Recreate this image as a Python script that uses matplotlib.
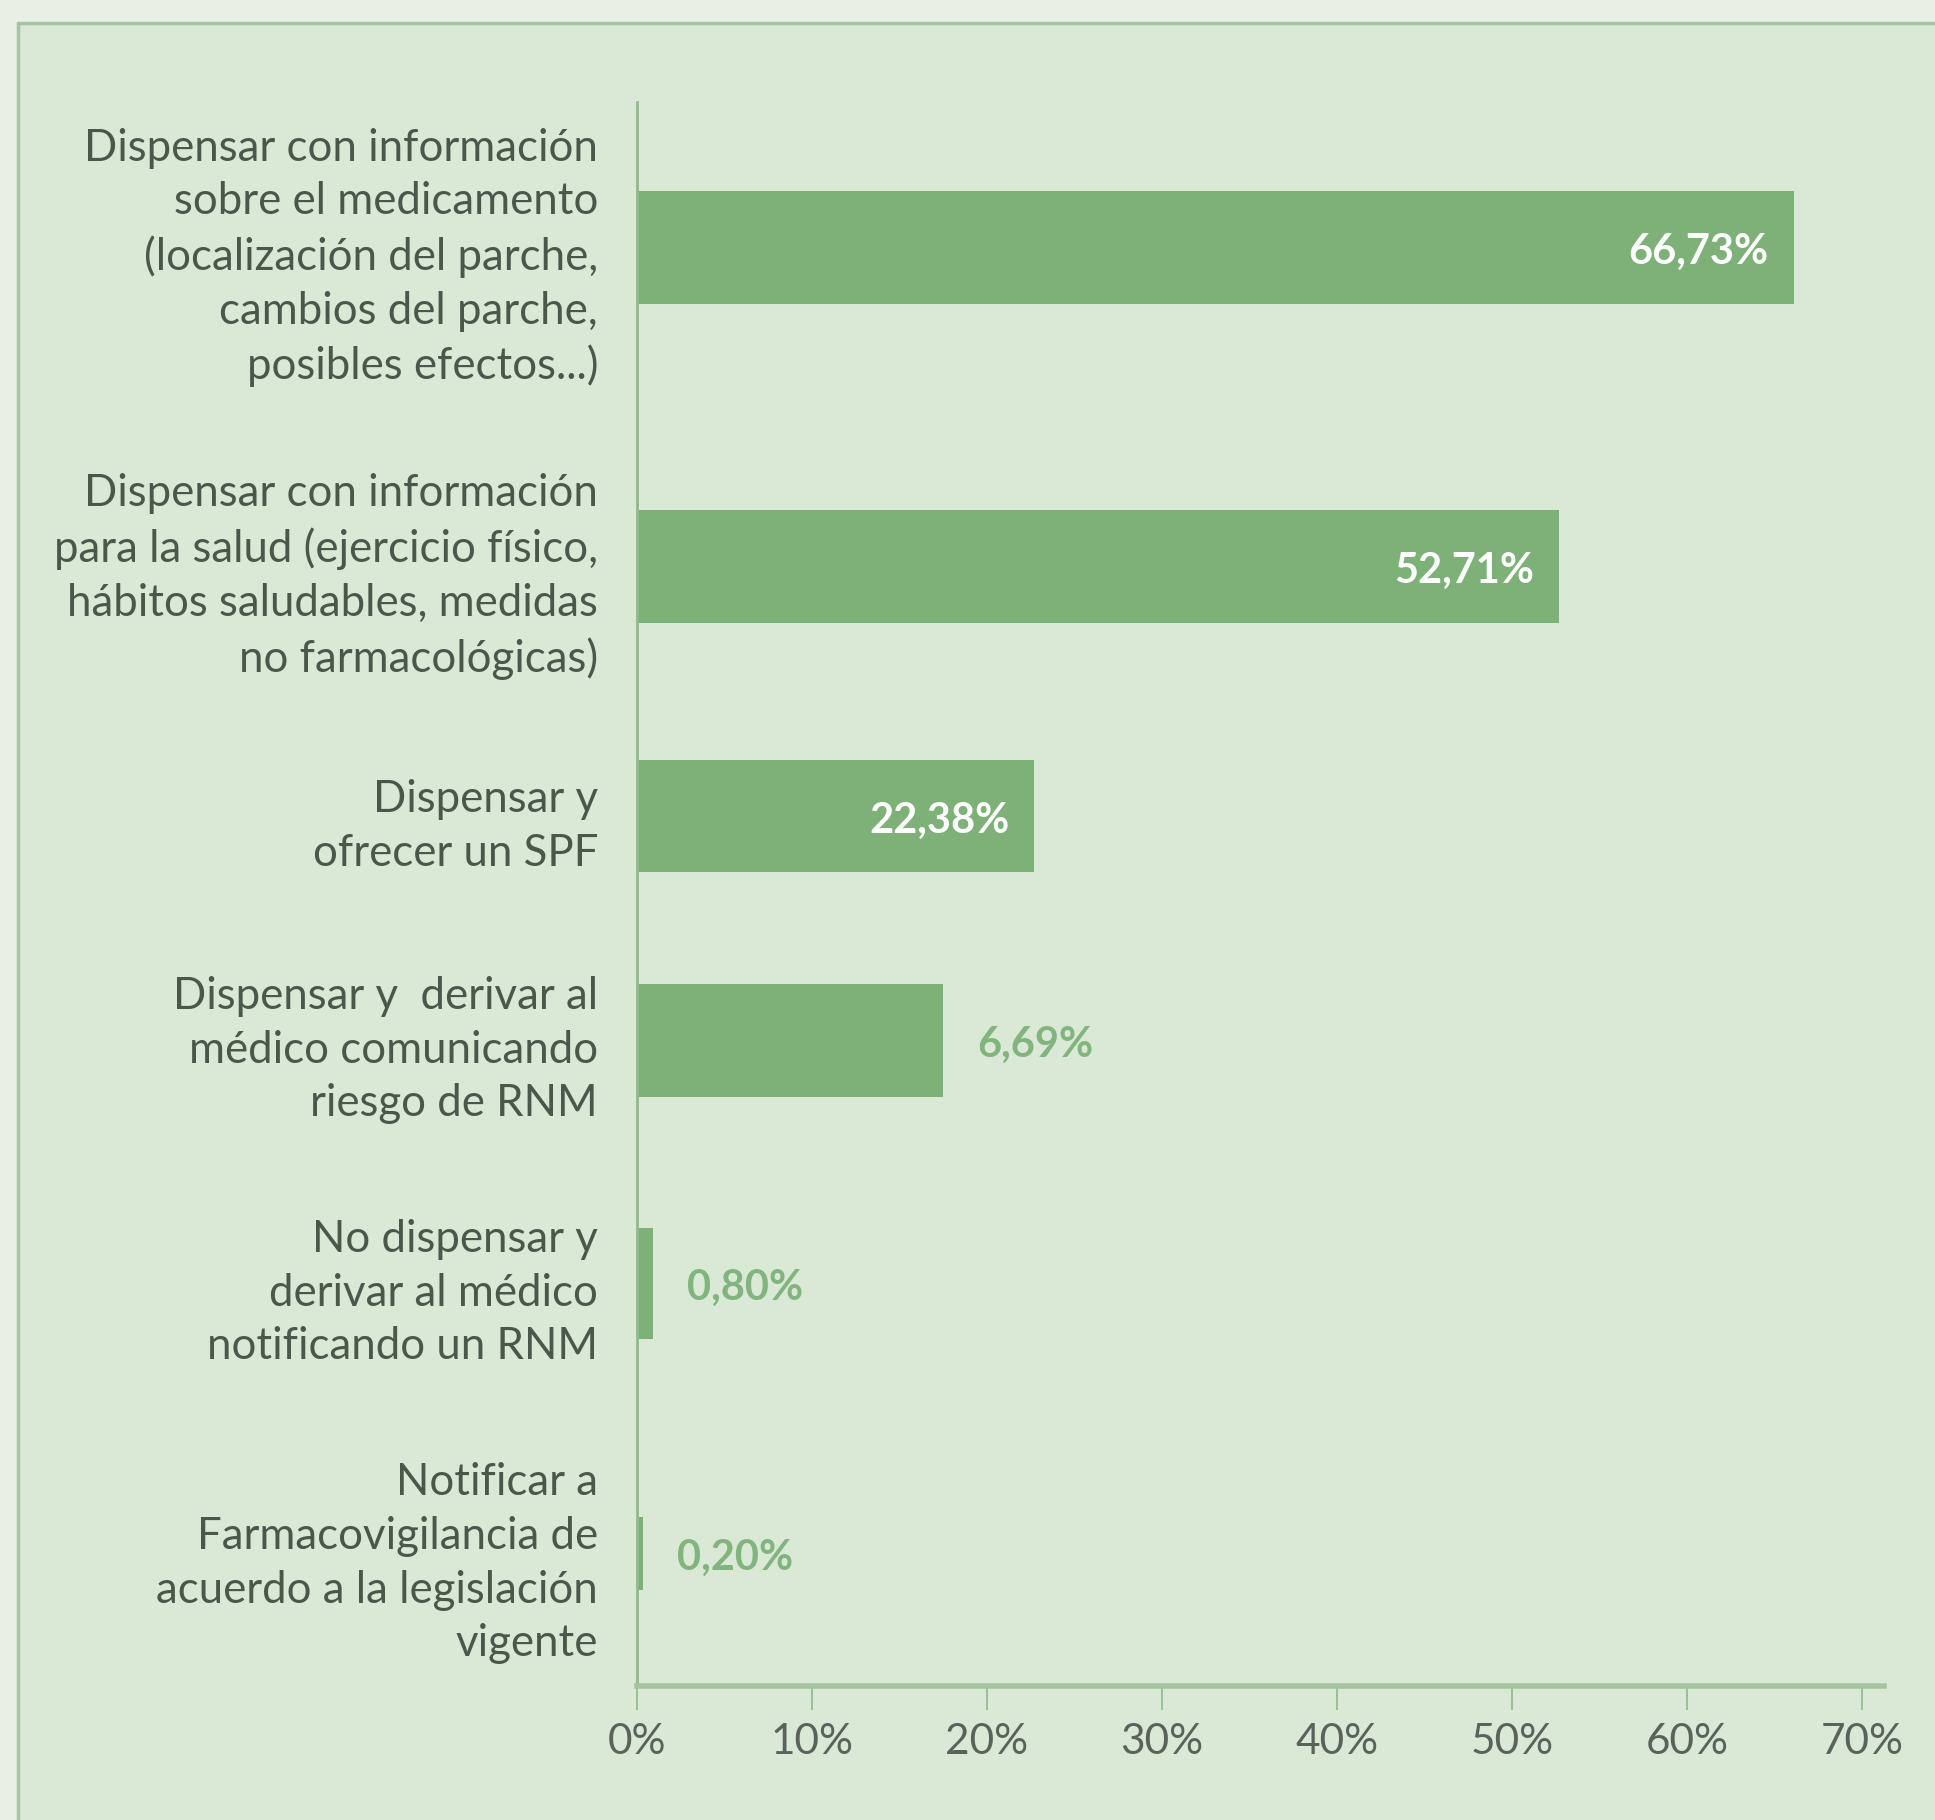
import matplotlib
matplotlib.use("Agg")
import matplotlib.pyplot as plt
from matplotlib.patches import Rectangle

categories = [
    "Dispensar con información\nsobre el medicamento\n(localización del parche,\ncambios del parche,\nposibles efectos...)",
    "Dispensar con información\npara la salud (ejercicio físico,\nhábitos saludables, medidas\nno farmacológicas)",
    "Dispensar y\nofrecer un SPF",
    "Dispensar y  derivar al\nmédico comunicando\nriesgo de RNM",
    "No dispensar y\nderivar al médico\nnotificando un RNM",
    "Notificar a\nFarmacovigilancia de\nacuerdo a la legislación\nvigente",
]
# bar lengths as drawn in the picture (percent)
bar_values = [66.1, 52.7, 22.7, 17.5, 0.9, 0.35]
# value labels printed on the chart
value_labels = ["66,73%", "52,71%", "22,38%", "6,69%", "0,80%", "0,20%"]
xticks = [0, 10, 20, 30, 40, 50, 60, 70]
xtick_labels = ["0%", "10%", "20%", "30%", "40%", "50%", "60%", "70%"]

# layout (slot positions / heights, axis units)
slot_pos = [247, 566, 816, 1040, 1283, 1553]
slot_h = [113, 113, 112, 113, 111, 73]
label_inside = [True, True, True, False, False, False]

W, H = 1935, 1820
fig = plt.figure(figsize=(W / 100, H / 100), dpi=100)
fig.patch.set_facecolor("#e8f0e6")
panel = Rectangle((18 / W, -0.05), 1.2, 1 - 23 / H + 0.05, transform=fig.transFigure,
                  facecolor="#dae8d6", edgecolor="#a8c4a2", linewidth=2.5, zorder=-10)
fig.patches.append(panel)

ax = fig.add_axes([637 / W, 1 - 1686 / H, (1884 - 637) / W, (1686 - 102) / H])
ax.set_zorder(5)
ax.set_facecolor("none")
ax.patch.set_alpha(0)
ax.set_xlim(0, (1884 - 637) / 175 * 10)
ax.set_ylim(1686, 102)

bar_color = "#7db178"
ax.barh(slot_pos, bar_values, height=slot_h, color=bar_color, zorder=2)

for y, v, lab, inside in zip(slot_pos, bar_values, value_labels, label_inside):
    if inside:
        ax.annotate(lab, (v, y), xytext=(-25, -5), textcoords="offset pixels", ha="right", va="center",
                    color="white", fontsize=30, fontweight="bold", family="Lato")
    else:
        ax.annotate(lab, (v, y), xytext=(34, -5), textcoords="offset pixels", ha="left", va="center",
                    color="#82b57e", fontsize=30, fontweight="bold", family="Lato")

ax.set_yticks(slot_pos)
ax.set_yticklabels(categories, fontsize=31.5, family="Lato", color="#4c574c", linespacing=1.38,
                   ha="right", multialignment="right")
ax.tick_params(axis="y", length=0, pad=28)

ax.set_xticks(xticks)
ax.set_xticklabels(xtick_labels, fontsize=30.5, family="Lato", color="#5a635b")
ax.tick_params(axis="x", length=17, width=1.3, color="#92bd8e", pad=10, direction="out")

for s in ["top", "right"]:
    ax.spines[s].set_visible(False)
ax.spines["left"].set_color("#8dbb89")
ax.spines["left"].set_linewidth(2)
ax.spines["bottom"].set_color("#a6c3a0")
ax.spines["bottom"].set_linewidth(4)

fig.savefig("out.png", dpi=100, facecolor=fig.get_facecolor())
